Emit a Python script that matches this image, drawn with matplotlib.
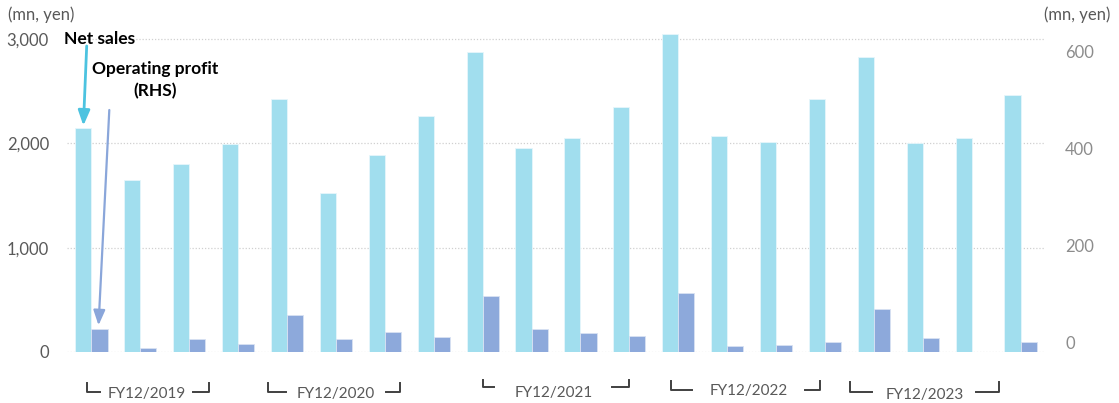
import matplotlib
matplotlib.use("Agg")
import matplotlib.pyplot as plt
import numpy as np
from matplotlib.transforms import ScaledTranslation, blended_transform_factory

# ---- data ----
quarters = [f"{y} Q{q}" for y in range(2019, 2024) for q in range(1, 5)]
net_sales = [2150, 1650, 1800, 1995, 2425, 1525, 1885, 2265,
             2880, 1958, 2050, 2350, 3049, 2068, 2018, 2426,
             2828, 2002, 2052, 2464]
op_profit = [48, 8, 26, 16, 76, 27, 41, 30,
             115, 47, 39, 34, 121, 12, 14, 21,
             89, 29, 1, 21]
fiscal_years = ["FY12/2019", "FY12/2020", "FY12/2021", "FY12/2022", "FY12/2023"]
left_ticks = [0, 1000, 2000, 3000]
right_ticks = [0, 200, 400, 600]

# ---- style ----
W, H = 1119, 403
C_SALES = "#A1DEEE"
C_OP = "#8DA9DB"
C_TXT = "#595959"
FONT = "Lato"

fig = plt.figure(figsize=(W / 100, H / 100), dpi=100)
ax = fig.add_axes([67 / W, 1 - 352 / H, (1045 - 67) / W, 323.3 / H])
ax2 = ax.twinx()

x = np.arange(len(quarters))
bw = 0.33
ax.bar(x - bw / 2, net_sales, width=bw, color=C_SALES, edgecolor="#E6F6FB", linewidth=0.6, zorder=3)
ax2.bar(x + bw / 2, op_profit, width=bw, color=C_OP, edgecolor="#D9E2F3", linewidth=0.6, zorder=3)

ax.set_xlim(-0.5, len(quarters) - 0.5)
ax.set_ylim(0, 3100)
ax2.set_ylim(0, 3100 / 4.65)
ax.set_xticks([])
ax.set_yticks(left_ticks)
ax.set_yticklabels([f"{v:,}" for v in left_ticks], fontsize=12, color=C_TXT, family=FONT)
ax.tick_params(axis="y", length=0, pad=13)
ax2.set_yticks(right_ticks)
ax2.set_yticklabels([])
ax2.tick_params(axis="y", length=0)

# right axis labels (sit slightly higher than their gridlines in the reference)
rtr = blended_transform_factory(ax2.transAxes, ax2.transData) + \
    ScaledTranslation(20 / 100, 8 / 100, fig.dpi_scale_trans)
for v in right_ticks:
    ax2.text(1.0, v, str(v), transform=rtr, ha="left", va="center", fontsize=12,
             color="#8C8C8C", family=FONT, clip_on=False)

for a in (ax, ax2):
    for s in a.spines.values():
        s.set_visible(False)
ax.yaxis.grid(True, color="#D0D0D0", linestyle=(0, (1, 1.5)), linewidth=0.9, zorder=0)
ax.set_axisbelow(True)
ax2.set_zorder(ax.get_zorder() + 1)
ax.patch.set_visible(False)

# units
fig.text(8 / W, 1 - 15 / H, "(mn, yen)", fontsize=12, color=C_TXT, family=FONT, va="center", ha="left")
fig.text(1110 / W, 1 - 15 / H, "(mn, yen)", fontsize=12, color=C_TXT, family=FONT, va="center", ha="right")

# series labels + arrows
fig.text(64 / W, 1 - 39 / H, "Net sales", fontsize=12.5, fontweight="bold", color="black",
         family=FONT, va="center", ha="left")
fig.text(155 / W, 1 - 69 / H, "Operating profit", fontsize=12.5, fontweight="bold", color="black",
         family=FONT, va="center", ha="center")
fig.text(155 / W, 1 - 91 / H, "(RHS)", fontsize=12.5, fontweight="bold", color="black",
         family=FONT, va="center", ha="center")

ax.annotate("", xy=(x[0] - bw / 2, net_sales[0] + 20), xycoords="data",
            xytext=(86.7, H - 46), textcoords="figure pixels",
            arrowprops=dict(arrowstyle="-|>,head_length=0.9,head_width=0.35", color="#4CC3E0",
                            lw=2, shrinkA=0, shrinkB=0), zorder=6)
ax2.annotate("", xy=(x[0] + bw / 2 - 0.02, op_profit[0] + 7), xycoords="data",
             xytext=(109.3, H - 110), textcoords="figure pixels",
             arrowprops=dict(arrowstyle="-|>,head_length=0.9,head_width=0.35", color="#8AA6DA",
                             lw=1.6, shrinkA=0, shrinkB=0), zorder=6)

# fiscal-year brackets (offsets relative to each year's first quarter)
# (left bracket x, left arm end, text centre, right arm start, right bracket x)
bracket_layout = [(-0.09, 0.17, 1.13, 2.07, 2.40),
                  (-0.39, -0.03, 0.99, 2.02, 2.30),
                  (0.00, 0.24, 1.45, 2.65, 3.00),
                  (-0.14, 0.29, 1.45, 2.60, 2.90),
                  (-0.49, -0.04, 1.04, 2.09, 2.56)]
# (bracket top, bracket bottom, text y) in axes fraction
bracket_y = [(-0.096, -0.124, -0.130),
             (-0.096, -0.124, -0.130),
             (-0.087, -0.107, -0.127),
             (-0.090, -0.118, -0.121),
             (-0.093, -0.124, -0.133)]
tr = ax.get_xaxis_transform()
for i, (lab, lay, yy) in enumerate(zip(fiscal_years, bracket_layout, bracket_y)):
    base = 4 * i
    l0, l1, tc, r0, r1 = [base + v for v in lay]
    yt, yb, ty = yy
    ax.plot([l0, l0, l1], [yt, yb, yb], transform=tr, color="#404040", lw=1.4, clip_on=False)
    ax.plot([r0, r1, r1], [yb, yb, yt], transform=tr, color="#404040", lw=1.4, clip_on=False)
    ax.text(tc, ty, lab, transform=tr, ha="center", va="center", fontsize=11,
            color=C_TXT, family=FONT)

fig.savefig("out.png", dpi=100)
